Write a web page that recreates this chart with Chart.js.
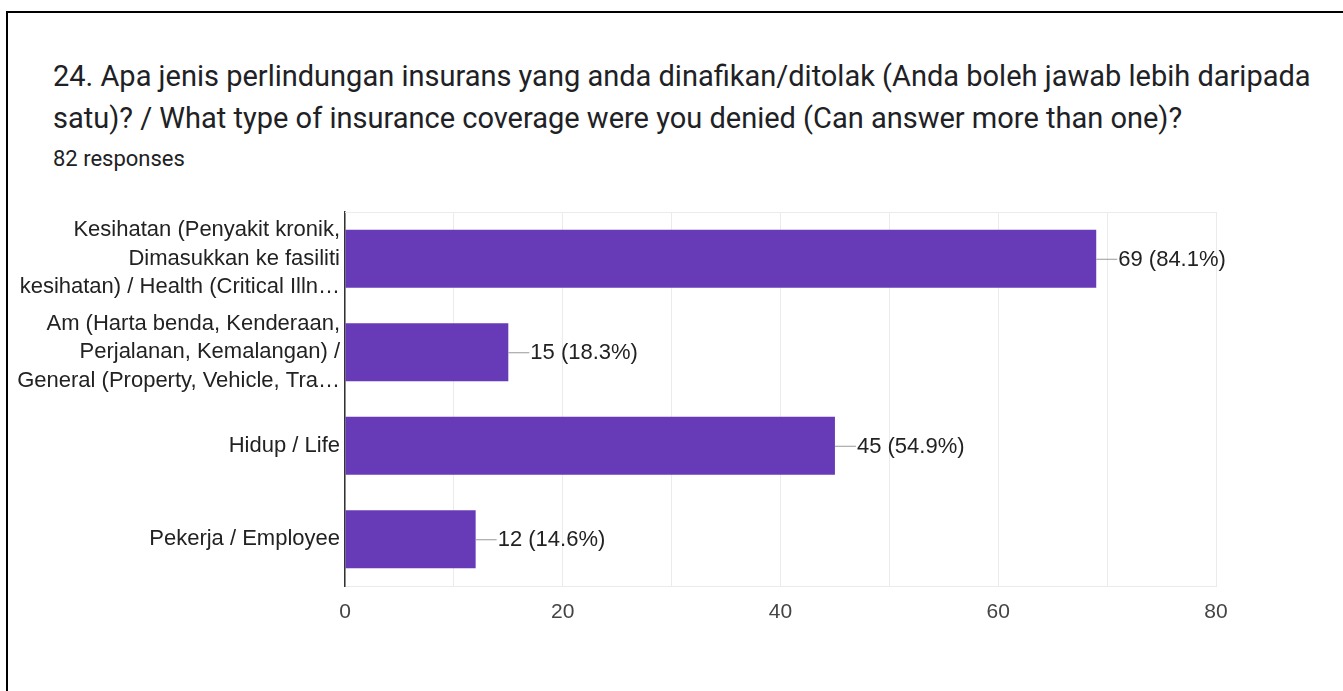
<!DOCTYPE html>
<html lang="ms">
<head>
<meta charset="UTF-8">
<title>Jenis perlindungan insurans</title>
<script src="https://cdn.jsdelivr.net/npm/chart.js"></script>
<style>
  body {
    margin: 0;
    background: #fff;
    width: 1343px;
    height: 691px;
    overflow: hidden;
    position: relative;
    font-family: Roboto, sans-serif;
  }
  .frame {
    position: absolute;
    left: 6px;
    top: 11px;
    right: -10px;
    bottom: -10px;
    border-top: 2px solid #000;
    border-left: 2px solid #000;
  }
  .title {
    position: absolute;
    left: 53px;
    top: 55px;
    margin: 0;
    font-size: 29px;
    font-weight: 400;
    line-height: 42px;
    color: #202124;
    white-space: nowrap;
  }
  .count {
    position: absolute;
    left: 53px;
    top: 146px;
    font-size: 22px;
    color: #202124;
  }
  .chart-box {
    position: absolute;
    left: 0;
    top: 190px;
    width: 1343px;
    height: 501px;
  }
</style>
</head>
<body>
<div class="frame"></div>
<h1 class="title">24. Apa jenis perlindungan insurans yang anda dinafikan/ditolak (Anda boleh jawab lebih daripada<br>satu)? / What type of insurance coverage were you denied (Can answer more than one)?</h1>
<div class="count">82 responses</div>
<div class="chart-box"><canvas id="chart"></canvas></div>

<script>
// Response counts per coverage type
const categories = [
  ['Kesihatan (Penyakit kronik,', 'Dimasukkan ke fasiliti', 'kesihatan) / Health (Critical Illn…'],
  ['Am (Harta benda, Kenderaan,', 'Perjalanan, Kemalangan) /', 'General (Property, Vehicle, Tra…'],
  'Hidup / Life',
  'Pekerja / Employee'
];
const counts = [69, 15, 45, 12];
const totalResponses = 82;
const xTicks = [0, 20, 40, 60, 80];

const chartFont = "'Liberation Sans', Arial, sans-serif";

// "69 (84.1%)" style labels with a short leader line from the bar end
const valueLabels = {
  id: 'valueLabels',
  afterDatasetsDraw(chart) {
    const ctx = chart.ctx;
    const meta = chart.getDatasetMeta(0);
    ctx.save();
    ctx.font = '22px ' + chartFont;
    ctx.textBaseline = 'middle';
    ctx.textAlign = 'left';
    meta.data.forEach((bar, i) => {
      const v = counts[i];
      const pct = (v / totalResponses * 100).toFixed(1);
      ctx.strokeStyle = '#999';
      ctx.lineWidth = 1;
      ctx.beginPath();
      ctx.moveTo(bar.x, bar.y + 0.5);
      ctx.lineTo(bar.x + 21, bar.y + 0.5);
      ctx.stroke();
      ctx.fillStyle = '#222';
      ctx.fillText(v + ' (' + pct + '%)', bar.x + 22, bar.y + 1);
    });
    ctx.restore();
  }
};

// light line along the top of the plot area
const topBorder = {
  id: 'topBorder',
  beforeDatasetsDraw(chart) {
    const { ctx, chartArea } = chart;
    ctx.save();
    ctx.strokeStyle = '#ebebeb';
    ctx.lineWidth = 1;
    ctx.beginPath();
    ctx.moveTo(chartArea.left, chartArea.top + 0.5);
    ctx.lineTo(chartArea.right, chartArea.top + 0.5);
    ctx.stroke();
    ctx.restore();
  }
};

new Chart(document.getElementById('chart'), {
  type: 'bar',
  data: {
    labels: categories,
    datasets: [{
      data: counts,
      backgroundColor: '#673ab7',
      borderWidth: 0,
      categoryPercentage: 1,
      barPercentage: 0.62
    }]
  },
  options: {
    indexAxis: 'y',
    responsive: true,
    maintainAspectRatio: false,
    animation: false,
    layout: { padding: { top: 22, right: 127, bottom: 0, left: 0 } },
    plugins: {
      legend: { display: false },
      tooltip: { enabled: false }
    },
    scales: {
      x: {
        min: 0,
        max: 80,
        ticks: {
          stepSize: 10,
          padding: 14,
          color: '#444',
          font: { family: chartFont, size: 21 },
          callback: v => xTicks.includes(v) ? String(v) : ''
        },
        grid: { color: '#ebebeb', lineWidth: 1, drawTicks: false },
        border: { color: '#ebebeb', width: 1 },
        afterFit(scale) { scale.height = 105; }
      },
      y: {
        ticks: {
          padding: 5,
          color: '#222',
          font: { family: chartFont, size: 22, lineHeight: 1.3 }
        },
        grid: { display: false, drawTicks: false },
        border: { color: '#333', width: 1.5 },
        afterFit(scale) { scale.width = 345; }
      }
    }
  },
  plugins: [topBorder, valueLabels]
});
</script>
</body>
</html>
